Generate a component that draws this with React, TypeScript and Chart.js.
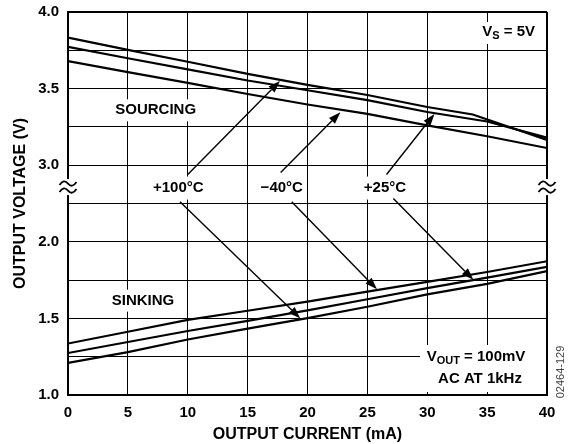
import React, { useEffect, useRef } from "react";
import { Chart, registerables } from "chart.js";

Chart.register(...registerables);

// ---- data (output current in mA, output voltage in V) ----
const currentMa = [0, 5, 10, 15, 20, 25, 30, 35, 40];
const currentMaKink = [0, 5, 10, 15, 20, 25, 30, 33.8, 40];

const sourcingPlus100 = [3.833, 3.753, 3.675, 3.596, 3.524, 3.458, 3.38, 3.331, 3.165];
const sourcingPlus25 = [3.772, 3.698, 3.626, 3.553, 3.489, 3.425, 3.347, 3.285, 3.18];
const sourcingMinus40 = [3.68, 3.608, 3.537, 3.465, 3.396, 3.335, 3.26, 3.189, 3.112];

const sinkingMinus40 = [1.336, 1.413, 1.49, 1.55, 1.61, 1.675, 1.738, 1.803, 1.873];
const sinkingPlus25 = [1.274, 1.346, 1.418, 1.484, 1.552, 1.625, 1.698, 1.766, 1.836];
const sinkingPlus100 = [1.209, 1.28, 1.362, 1.433, 1.502, 1.576, 1.657, 1.725, 1.809];

const voltageTicks = [1.0, 1.5, 2.0, 3.0, 3.5, 4.0];
const currentTicks = [0, 5, 10, 15, 20, 25, 30, 35, 40];

// annotation labels (x in mA, y in axis units)
const tempLabels = ["+100°C", "\u221240°C", "+25°C"];
const tempLabelX = [9.21, 17.85, 26.47];
const tempLabelYDisplay = 2.354;
const sourceArrowFrom: [number, number][] = [[10.0, 2.439], [17.76, 2.452], [26.6, 2.439]]; // display units
const sourceArrowTo: [number, number][] = [[17.7, 3.55], [22.75, 3.345], [30.6, 3.335]]; // volts
const sinkArrowFrom: [number, number][] = [[9.35, 2.262], [18.68, 2.262], [27.17, 2.282]]; // display units
const sinkArrowTo: [number, number][] = [[19.4, 1.5], [25.8, 1.69], [33.85, 1.752]]; // volts

// axis break: 3.0 V..4.0 V are drawn shifted down by 0.5 units
const toDisplay = (v: number) => (v >= 2.5 ? v - 0.5 : v);

const FONT = '"Liberation Sans", Arial, Helvetica, sans-serif';

function drawArrow(ctx: CanvasRenderingContext2D, x1: number, y1: number, x2: number, y2: number) {
  const ang = Math.atan2(y2 - y1, x2 - x1);
  const len = 12;
  const hw = 4.2;
  const bx = x2 - len * Math.cos(ang);
  const by = y2 - len * Math.sin(ang);
  ctx.beginPath();
  ctx.moveTo(x1, y1);
  ctx.lineTo(bx, by);
  ctx.lineWidth = 1.4;
  ctx.strokeStyle = "#000";
  ctx.stroke();
  ctx.beginPath();
  ctx.moveTo(x2, y2);
  ctx.lineTo(bx - hw * Math.sin(ang), by + hw * Math.cos(ang));
  ctx.lineTo(bx + hw * Math.sin(ang), by - hw * Math.cos(ang));
  ctx.closePath();
  ctx.fillStyle = "#000";
  ctx.fill();
}

type Part = { t: string; size: number; dy: number };

function richWidth(ctx: CanvasRenderingContext2D, parts: Part[]) {
  let w = 0;
  for (const p of parts) {
    ctx.font = `bold ${p.size}px ${FONT}`;
    w += ctx.measureText(p.t).width;
  }
  return w;
}

function drawRich(ctx: CanvasRenderingContext2D, parts: Part[], x: number, y: number) {
  let cx = x;
  ctx.textBaseline = "middle";
  ctx.textAlign = "left";
  ctx.fillStyle = "#000";
  for (const p of parts) {
    ctx.font = `bold ${p.size}px ${FONT}`;
    ctx.fillText(p.t, cx, y + p.dy);
    cx += ctx.measureText(p.t).width;
  }
}

function drawBreak(ctx: CanvasRenderingContext2D, cx: number, cy: number) {
  ctx.save();
  ctx.fillStyle = "#fff";
  ctx.fillRect(cx - 9, cy - 8, 18, 16);
  ctx.strokeStyle = "#000";
  ctx.lineWidth = 1.8;
  for (const oy of [-3.5, 3.5]) {
    const y = cy + oy;
    ctx.beginPath();
    ctx.moveTo(cx - 8.5, y + 1.5);
    ctx.quadraticCurveTo(cx - 4.2, y - 5, cx, y);
    ctx.quadraticCurveTo(cx + 4.2, y + 5, cx + 8.5, y - 1.5);
    ctx.stroke();
  }
  ctx.restore();
}

const annotationPlugin = {
  id: "annotations",
  beforeDatasetsDraw(chart: any) {
    const ctx: CanvasRenderingContext2D = chart.ctx;
    const xs = chart.scales.x;
    const ys = chart.scales.y;
    ctx.save();
    ctx.fillStyle = "#fff";
    ctx.font = `bold 15px ${FONT}`;
    // temperature labels
    tempLabels.forEach((t, i) => {
      const px = xs.getPixelForValue(tempLabelX[i]);
      const py = ys.getPixelForValue(tempLabelYDisplay);
      const w = ctx.measureText(t).width;
      ctx.fillRect(px - w / 2 - 3, py - 11, w + 6, 23);
    });
    // SOURCING / SINKING
    const blocks: [string, number, number][] = [
      ["SOURCING", 7.32, toDisplay(3.358)],
      ["SINKING", 6.26, 1.616],
    ];
    blocks.forEach(([t, x, y]) => {
      const px = xs.getPixelForValue(x);
      const py = ys.getPixelForValue(y);
      const w = ctx.measureText(t).width;
      ctx.fillRect(px - w / 2 - 3, py - 11, w + 6, 22);
    });
    // VS box
    ctx.fillRect(476, 22, 64, 22);
    // VOUT box
    ctx.fillRect(420, 345, xs.right - 421, 47);
    ctx.restore();
  },
  afterDatasetsDraw(chart: any) {
    const ctx: CanvasRenderingContext2D = chart.ctx;
    const xs = chart.scales.x;
    const ys = chart.scales.y;
    ctx.save();
    ctx.fillStyle = "#000";
    ctx.textAlign = "center";
    ctx.textBaseline = "middle";
    ctx.font = `bold 15px ${FONT}`;
    tempLabels.forEach((t, i) => {
      ctx.fillText(t, xs.getPixelForValue(tempLabelX[i]), ys.getPixelForValue(tempLabelYDisplay));
    });
    ctx.fillText("SOURCING", xs.getPixelForValue(7.32), ys.getPixelForValue(toDisplay(3.358)));
    ctx.fillText("SINKING", xs.getPixelForValue(6.26), ys.getPixelForValue(1.616));

    // arrows
    sourceArrowFrom.forEach((f, i) => {
      const to = sourceArrowTo[i];
      drawArrow(
        ctx,
        xs.getPixelForValue(f[0]),
        ys.getPixelForValue(f[1]),
        xs.getPixelForValue(to[0]),
        ys.getPixelForValue(toDisplay(to[1]))
      );
    });
    sinkArrowFrom.forEach((f, i) => {
      const to = sinkArrowTo[i];
      drawArrow(
        ctx,
        xs.getPixelForValue(f[0]),
        ys.getPixelForValue(f[1]),
        xs.getPixelForValue(to[0]),
        ys.getPixelForValue(toDisplay(to[1]))
      );
    });

    // VS = 5V
    const vs: Part[] = [
      { t: "V", size: 15, dy: 0 },
      { t: "S", size: 11, dy: 4 },
      { t: " = 5V", size: 15, dy: 0 },
    ];
    const vsw = richWidth(ctx, vs);
    drawRich(ctx, vs, 535 - vsw, 32);

    // VOUT = 100mV / AC AT 1kHz
    const vout: Part[] = [
      { t: "V", size: 15, dy: 0 },
      { t: "OUT", size: 11, dy: 4 },
      { t: " = 100mV", size: 15, dy: 0 },
    ];
    const vw = richWidth(ctx, vout);
    drawRich(ctx, vout, 476 - vw / 2, 356.5);
    ctx.font = `bold 15px ${FONT}`;
    ctx.textAlign = "center";
    ctx.fillText("AC AT 1kHz", 480, 378.5);

    // axis break marks
    const by = ys.getPixelForValue(tempLabelYDisplay) - 0.5;
    drawBreak(ctx, xs.left, by);
    drawBreak(ctx, xs.right, by);

    // figure code
    ctx.save();
    ctx.translate(561, 372);
    ctx.rotate(-Math.PI / 2);
    ctx.font = `11px ${FONT}`;
    ctx.fillStyle = "#444";
    ctx.textAlign = "center";
    ctx.textBaseline = "middle";
    ctx.fillText("02464-129", 0, 0);
    ctx.restore();

    ctx.restore();
  },
};

export default function App() {
  const ref = useRef<HTMLCanvasElement>(null);

  useEffect(() => {
    const canvas = ref.current;
    if (!canvas) return;
    const line = (xsArr: number[], vals: number[]) => ({
      data: xsArr.map((x, i) => ({ x, y: toDisplay(vals[i]) })),
      borderColor: "#000",
      borderWidth: 2.2,
      pointRadius: 0,
      fill: false,
      tension: 0,
    });
    const tickFont = { family: FONT, size: 15, weight: "bold" as const };
    const chart = new Chart(canvas, {
      type: "line",
      data: {
        datasets: [
          line(currentMaKink, sourcingPlus100),
          line(currentMa, sourcingPlus25),
          line(currentMa, sourcingMinus40),
          line(currentMa, sinkingMinus40),
          line(currentMa, sinkingPlus25),
          line(currentMa, sinkingPlus100),
        ],
      },
      options: {
        animation: false,
        responsive: false,
        maintainAspectRatio: false,
        devicePixelRatio: 1,
        layout: { padding: { top: 12, right: 24, left: 0, bottom: 0 } },
        plugins: { legend: { display: false }, tooltip: { enabled: false } },
        scales: {
          x: {
            type: "linear",
            min: 0,
            max: 40,
            afterBuildTicks: (s: any) => {
              s.ticks = currentTicks.map((v) => ({ value: v }));
            },
            ticks: {
              font: tickFont,
              color: "#000",
              padding: 9,
              maxRotation: 0,
              autoSkip: false,
              callback: (v: any) => String(v),
            },
            grid: {
              color: "#000",
              lineWidth: (c: any) => (c.tick && c.tick.value === 40 ? 2 : 1),
              drawTicks: false,
            },
            border: { color: "#000", width: 2 },
            title: {
              display: true,
              text: "OUTPUT CURRENT (mA)",
              font: { family: FONT, size: 16, weight: "bold" },
              color: "#000",
              padding: { top: 0, bottom: 0 },
            },
            afterFit: (s: any) => {
              s.height = 49;
              s.paddingLeft = 0;
              s.paddingRight = 0;
            },
          },
          y: {
            type: "linear",
            min: 1.0,
            max: 3.5,
            ticks: {
              stepSize: 0.25,
              font: tickFont,
              color: "#000",
              padding: 9,
              autoSkip: false,
              callback: (v: any) => {
                const t = voltageTicks.find((a) => Math.abs(toDisplay(a) - Number(v)) < 1e-6);
                return t === undefined ? "" : t.toFixed(1);
              },
            },
            grid: {
              color: "#000",
              lineWidth: (c: any) => (c.tick && Math.abs(c.tick.value - 3.5) < 1e-6 ? 2 : 1),
              drawTicks: false,
            },
            border: { color: "#000", width: 2 },
            title: {
              display: true,
              text: "OUTPUT VOLTAGE (V)",
              font: { family: FONT, size: 16, weight: "bold" },
              color: "#000",
              padding: { top: 10.5, bottom: 0 },
            },
            afterFit: (s: any) => {
              s.width = 68;
              s.paddingTop = 0;
              s.paddingBottom = 0;
            },
          },
        },
      },
      plugins: [annotationPlugin],
    });
    return () => chart.destroy();
  }, []);

  return (
    <div style={{ position: "absolute", left: 0, top: 0, width: 571, height: 444, background: "#fff" }}>
      <canvas ref={ref} width={571} height={444} style={{ display: "block" }} />
    </div>
  );
}
